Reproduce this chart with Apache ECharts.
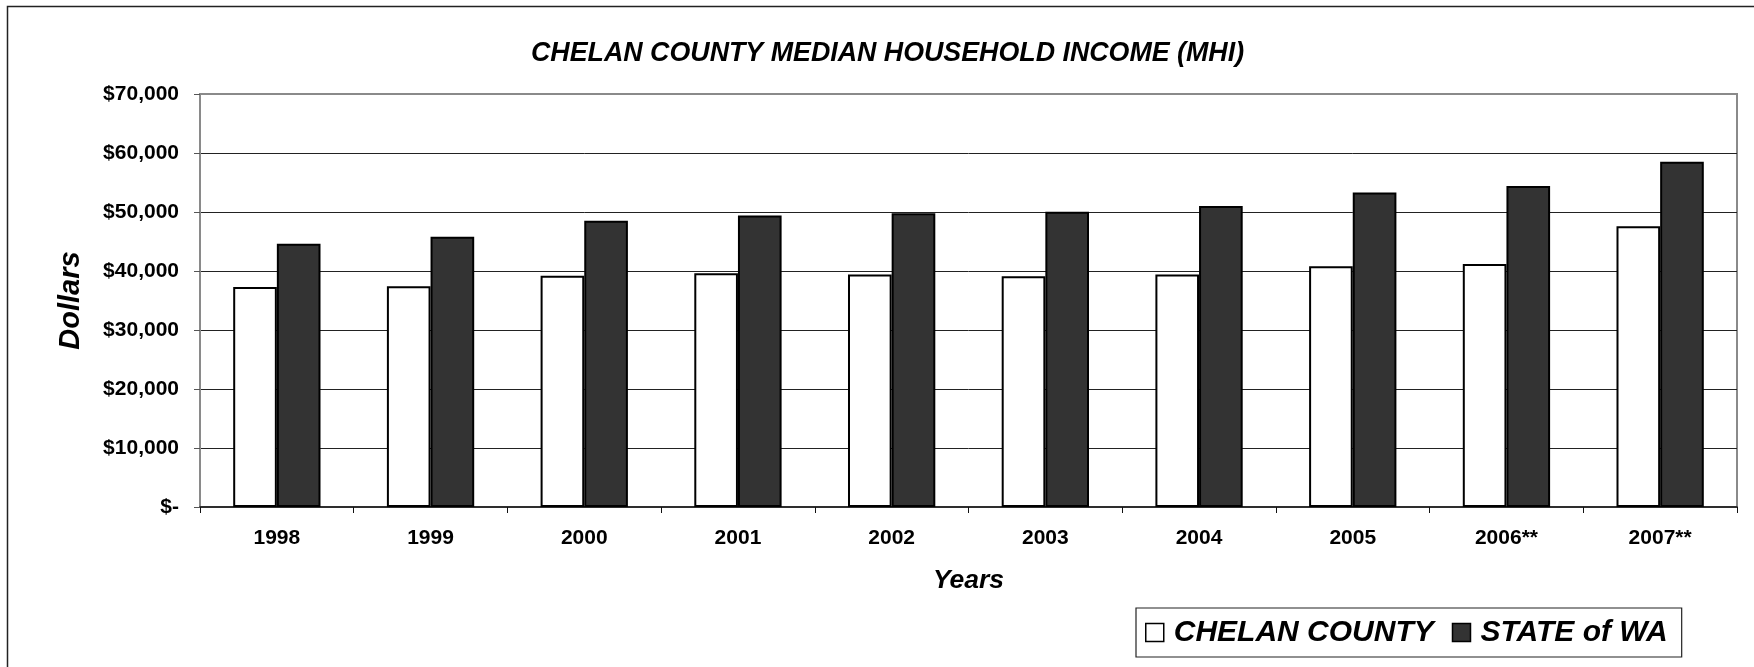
<!DOCTYPE html>
<html>
<head>
<meta charset="utf-8">
<script src="https://cdn.jsdelivr.net/npm/echarts@6/dist/echarts.min.js"></script>
<style>
html,body{margin:0;padding:0;background:#fff;}
#chart{width:1754px;height:667px;}
</style>
</head>
<body>
<div id="chart"></div>
<script>
const titleText = 'CHELAN COUNTY MEDIAN HOUSEHOLD INCOME (MHI)';
const categories = ['1998','1999','2000','2001','2002','2003','2004','2005','2006**','2007**'];
const chelanCounty = [37300, 37400, 39200, 39600, 39400, 39100, 39400, 40800, 41200, 47600];
const stateOfWA = [44600, 45800, 48500, 49400, 49800, 50050, 51000, 53300, 54400, 58500];
const seriesNames = ['CHELAN COUNTY', 'STATE of WA'];
const yTickLabels = ['$-', '$10,000', '$20,000', '$30,000', '$40,000', '$50,000', '$60,000', '$70,000'];
const yAxisName = 'Dollars';
const xAxisName = 'Years';

const FONT = '"Liberation Sans", Arial, sans-serif';
const chart = echarts.init(document.getElementById('chart'), null, {renderer: 'canvas'});
chart.setOption({
  animation: false,
  backgroundColor: '#fff',
  title: {
    text: titleText,
    left: 531,
    top: 39,
    padding: 0,
    textStyle: {fontFamily: FONT, fontSize: 26.8, fontWeight: 'bold', fontStyle: 'italic', color: '#000', lineHeight: 30}
  },
  legend: {
    left: 1136,
    top: 608,
    orient: 'horizontal',
    padding: [9, 14, 9, 9],
    itemGap: 18,
    itemWidth: 18,
    itemHeight: 18,
    borderColor: '#222',
    borderWidth: 1.2,
    icon: 'rect',
    textStyle: {fontFamily: FONT, fontSize: 30, fontWeight: 'bold', fontStyle: 'italic', color: '#000', lineHeight: 31, padding: [0, 0, 0, 5]},
    data: [
      {name: seriesNames[0], itemStyle: {color: '#fff', borderColor: '#000', borderWidth: 1.5}},
      {name: seriesNames[1], itemStyle: {color: '#333333', borderColor: '#000', borderWidth: 1.5}}
    ]
  },
  grid: {
    left: 200, right: 17, top: 94, bottom: 160,
    show: true,
    borderColor: '#8a8a8a',
    borderWidth: 2,
    backgroundColor: 'transparent'
  },
  xAxis: {
    type: 'category',
    data: categories,
    name: xAxisName,
    nameLocation: 'middle',
    nameGap: 60,
    nameTextStyle: {fontFamily: FONT, fontSize: 26.5, fontWeight: 'bold', fontStyle: 'italic', color: '#000'},
    axisLine: {show: true, lineStyle: {color: '#111', width: 1.5}},
    axisTick: {show: true, length: 6, lineStyle: {color: '#111', width: 1}},
    axisLabel: {margin: 21, fontFamily: FONT, fontSize: 21, fontWeight: 'bold', color: '#000'},
    splitLine: {show: false}
  },
  yAxis: {
    type: 'value',
    min: 0,
    max: 70000,
    interval: 10000,
    name: yAxisName,
    nameLocation: 'middle',
    nameGap: 115,
    nameRotate: 90,
    nameTextStyle: {fontFamily: FONT, fontSize: 29, fontWeight: 'bold', fontStyle: 'italic', color: '#000'},
    axisLine: {show: true, lineStyle: {color: '#8a8a8a', width: 2}},
    axisTick: {show: true, length: 6, lineStyle: {color: '#555', width: 1}},
    axisLabel: {
      margin: 21,
      fontFamily: FONT, fontSize: 21, fontWeight: 'bold', color: '#000',
      formatter: function (v) { return yTickLabels[Math.round(v / 10000)]; }
    },
    splitLine: {show: true, showMinLine: false, showMaxLine: false, lineStyle: {color: '#222', width: 1}}
  },
  series: [
    {
      name: seriesNames[0],
      type: 'bar',
      data: chelanCounty,
      barWidth: '28.4%',
      barGap: '0%',
      itemStyle: {color: '#ffffff', borderColor: '#000', borderWidth: 2}
    },
    {
      name: seriesNames[1],
      type: 'bar',
      data: stateOfWA,
      barWidth: '28.4%',
      barGap: '0%',
      itemStyle: {color: '#333333', borderColor: '#000', borderWidth: 2}
    }
  ],
  graphic: [
    {
      type: 'rect',
      silent: true,
      z: 100,
      shape: {x: 7.5, y: 6.5, width: 1800, height: 700},
      style: {fill: 'none', stroke: '#222', lineWidth: 1.5}
    }
  ]
});
</script>
</body>
</html>
